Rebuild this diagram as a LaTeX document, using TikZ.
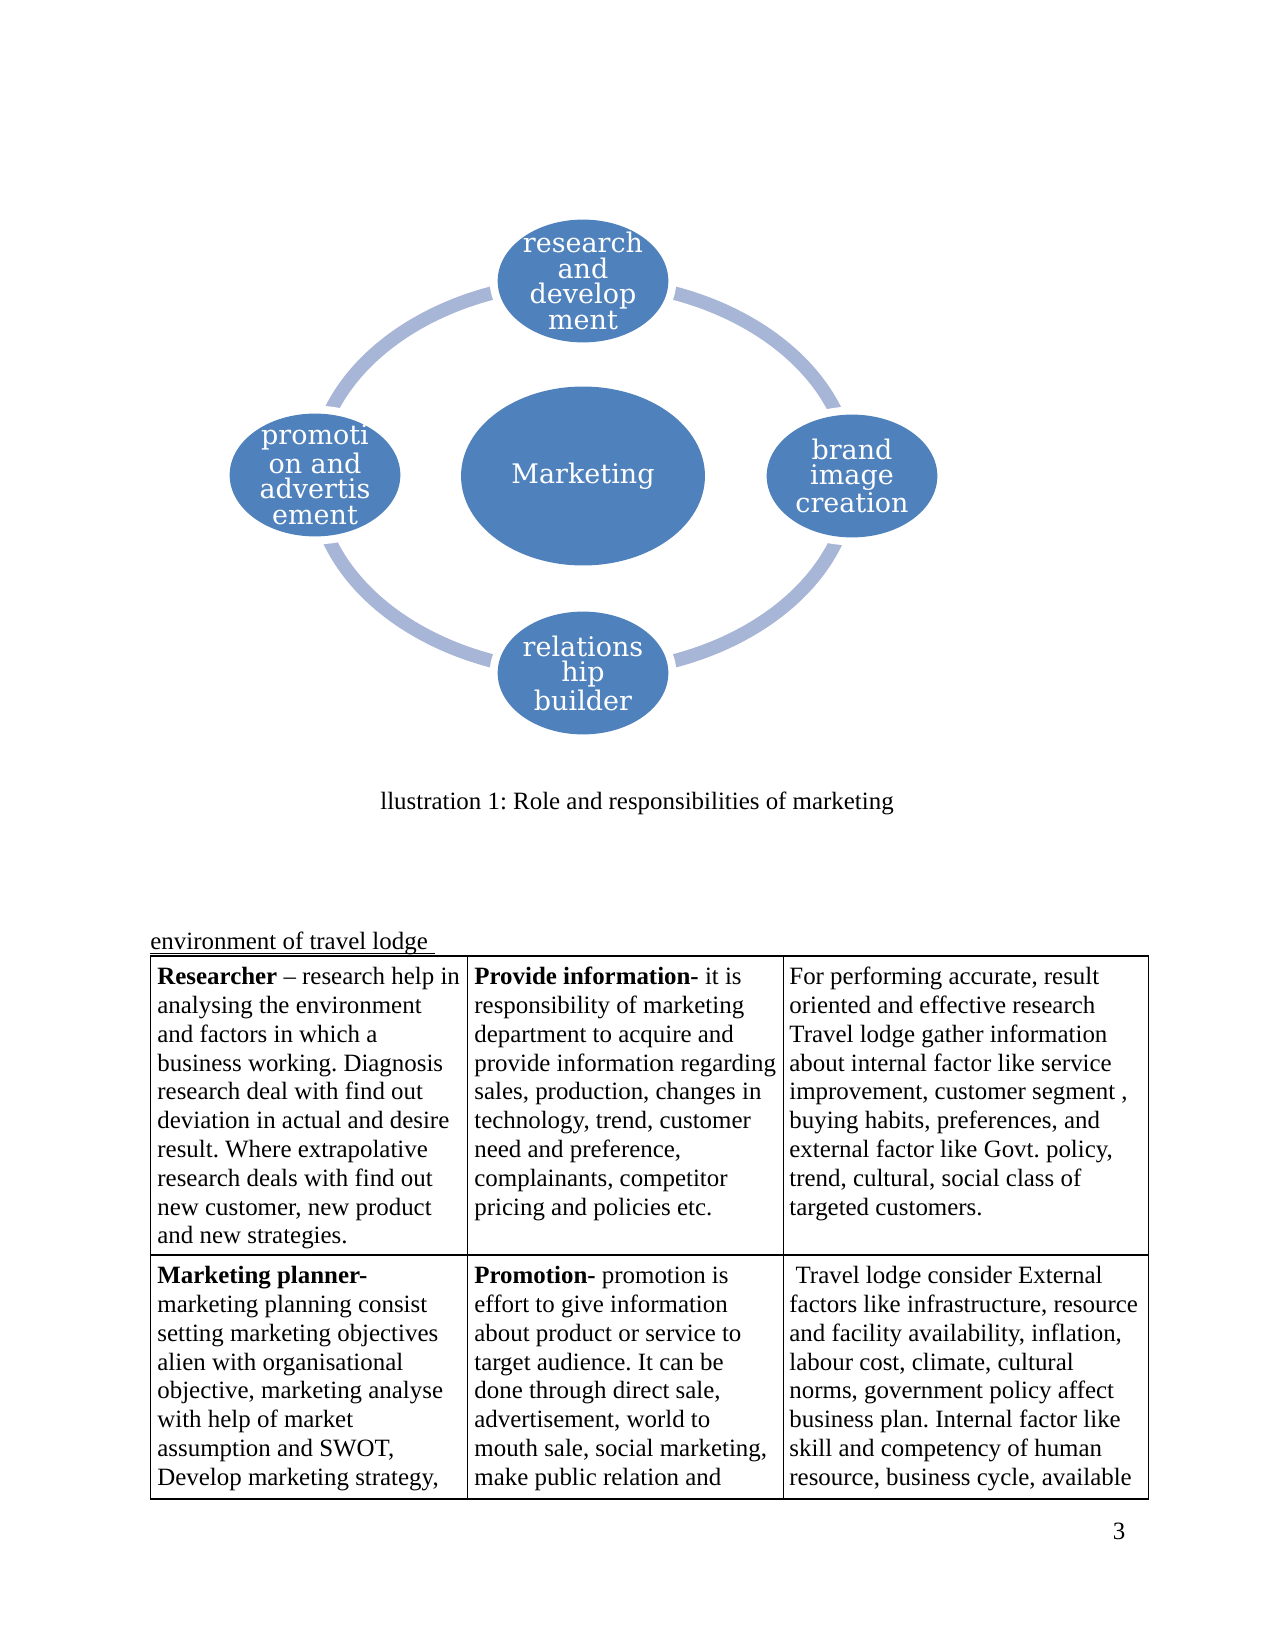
\documentclass[tikz,border=0pt]{standalone}
\usepackage{xcolor}
\usepackage{fontspec}
\setmainfont{Liberation Serif}
\newfontfamily\petalfont{DejaVu Serif}
\usepackage{tikz}
\usetikzlibrary{shapes.geometric,positioning}
\definecolor{petalblue}{RGB}{79,129,189}
\definecolor{ringblue}{RGB}{167,182,214}
\frenchspacing

\tikzset{
  petal/.style={ellipse, fill=petalblue, inner sep=0pt,
    minimum width=28.9mm, minimum height=20.8mm,
    preaction={draw=white, line width=2.7mm}},
  hubnode/.style={petal, minimum width=41.3mm, minimum height=30.3mm},
  petaltext/.style={text=white, align=center, inner sep=0pt,
    font=\petalfont\fontsize{13}{12.4}\selectfont},
  cell/.style={anchor=north west, inner sep=0pt, align=left,
    font=\fontsize{12}{13.88}\selectfont},
  rule/.style={black, line width=0.6pt}
}

\begin{document}
\begin{tikzpicture}[x=0.16933mm, y=-0.16933mm, font=\fontsize{12}{13.88}\selectfont]
  \useasboundingbox (0,0) rectangle (1275,1651);

  % Ring behind the petals
  \coordinate (hub) at (583,477);
  \draw[ringblue, line width=2.3mm] (hub) ellipse [x radius=45.4mm, y radius=33.1mm];

  % Petals
  \node (mkt) [hubnode, label={[petaltext, name=mkttext]center:Marketing}] at (583,476) {};
  \node (rd) [petal, label={[petaltext, name=rdtext]center:research\\and\\develop\\ment}] at (583,281) {};
  \node (brand) [petal, label={[petaltext, name=brandtext]center:brand\\image\\creation}] at (852,476) {};
  \node (rel) [petal, label={[petaltext, name=reltext]center:relations\\hip\\builder}] at (583,673) {};
  \node (promo) [petal, label={[petaltext, name=promotext]center:promoti\\on and\\advertis\\ement}] at (315,475) {};

  % Caption
  \node (caption) [anchor=base, inner sep=0pt] at (637,809) {llustration 1: Role and responsibilities of marketing};

  % Table heading, underlined
  \node (tabhead) [anchor=base west, inner sep=0pt] at (150,949) {environment of travel lodge};
  \coordinate (headend) at (435,953.5);
  \draw[rule] (tabhead.base west |- headend) -- (headend);

  % Table rules
  \draw[rule] (150.6,956) rectangle (1148.7,1499);
  \draw[rule] (150.6,1255) -- (1148.7,1255);
  \foreach \x in {467.5,783.3}
    \draw[rule] (\x,956) -- (\x,1499);

  % Row 1
  \node (researcher) [cell] at (157,964) {\strut\textbf{Researcher} – research help in\\
    analysing the environment\\
    and factors in which a\\
    business working. Diagnosis\\
    research deal with find out\\
    deviation in actual and desire\\
    result. Where extrapolative\\
    research deals with find out\\
    new customer, new product\\
    and new strategies.};
  \node (provide) [cell] at (474,964) {\strut\textbf{Provide information-} it is\\
    responsibility of marketing\\
    department to acquire and\\
    provide information regarding\\
    sales, production, changes in\\
    technology, trend, customer\\
    need and preference,\\
    complainants, competitor\\
    pricing and policies etc.};
  \node (performing) [cell] at (789,964) {\strut For performing accurate, result\\
    oriented and effective research\\
    Travel lodge gather information\\
    about internal factor like service\\
    improvement, customer segment ,\\
    buying habits, preferences, and\\
    external factor like Govt. policy,\\
    trend, cultural, social class of\\
    targeted customers.};

  % Row 2
  \node (planner) [cell] at (157,1263) {\strut\textbf{Marketing planner-}\\
    marketing planning consist\\
    setting marketing objectives\\
    alien with organisational\\
    objective, marketing analyse\\
    with help of market\\
    assumption and SWOT,\\
    Develop marketing strategy,};
  \node (promotion) [cell] at (474,1263) {\strut\textbf{Promotion-} promotion is\\
    effort to give information\\
    about product or service to\\
    target audience. It can be\\
    done through direct sale,\\
    advertisement, world to\\
    mouth sale, social marketing,\\
    make public relation and};
  \node (external) [cell] at (789,1263) {\strut\hspace*{0.25em}Travel lodge consider External\\
    factors like infrastructure, resource\\
    and facility availability, inflation,\\
    labour cost, climate, cultural\\
    norms, government policy affect\\
    business plan. Internal factor like\\
    skill and competency of human\\
    resource, business cycle, available};

  % Page number
  \node (pagenum) [anchor=base, inner sep=0pt] at (1119,1539) {3};
\end{tikzpicture}
\end{document}
